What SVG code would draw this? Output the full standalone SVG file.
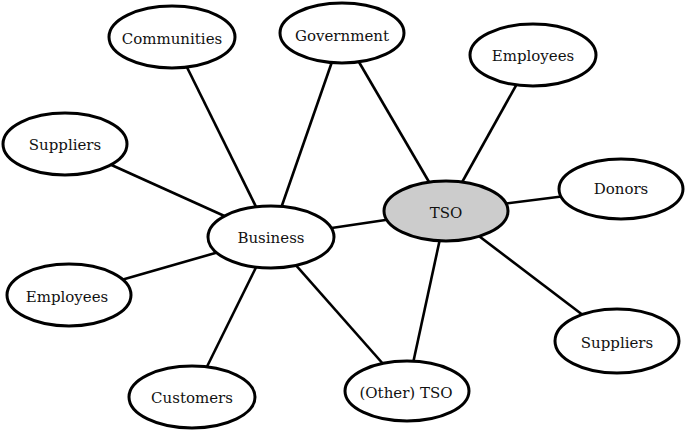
<svg xmlns="http://www.w3.org/2000/svg" width="685" height="432" viewBox="0 0 685 432">
  <style>
    .node ellipse { fill: #ffffff; stroke: #000000; stroke-width: 3; }
    #tso ellipse { fill: #cccccc; }
    .node text { font-family: "DejaVu Serif", "Liberation Serif", serif; font-size: 15px; fill: #111111; text-anchor: middle; dominant-baseline: central; }
    #edges line { stroke: #000000; stroke-width: 2.6; stroke-linecap: butt; }
  </style>
  <rect width="685" height="432" fill="#ffffff"/>
  <g id="edges">
    <line x1="172" y1="37" x2="271" y2="237"/>
    <line x1="342" y1="33" x2="271" y2="237"/>
    <line x1="342" y1="33" x2="446" y2="211"/>
    <line x1="533" y1="55" x2="446" y2="211"/>
    <line x1="65" y1="144" x2="271" y2="237"/>
    <line x1="621" y1="189" x2="446" y2="211"/>
    <line x1="446" y1="211" x2="271" y2="237"/>
    <line x1="69" y1="295" x2="271" y2="237"/>
    <line x1="192" y1="397" x2="271" y2="237"/>
    <line x1="271" y1="237" x2="407" y2="391"/>
    <line x1="446" y1="211" x2="407" y2="391"/>
    <line x1="446" y1="211" x2="617" y2="341"/>
  </g>
  <g id="communities" class="node">
    <ellipse cx="172" cy="37" rx="63" ry="31"/>
    <text x="172" y="39">Communities</text>
  </g>
  <g id="government" class="node">
    <ellipse cx="342" cy="33" rx="62" ry="30"/>
    <text x="342" y="36">Government</text>
  </g>
  <g id="employees-tso" class="node">
    <ellipse cx="533" cy="55" rx="63" ry="31"/>
    <text x="533" y="56">Employees</text>
  </g>
  <g id="suppliers-business" class="node">
    <ellipse cx="65" cy="144" rx="62" ry="31"/>
    <text x="65" y="145">Suppliers</text>
  </g>
  <g id="donors" class="node">
    <ellipse cx="621" cy="189" rx="62" ry="30"/>
    <text x="621" y="189">Donors</text>
  </g>
  <g id="tso" class="node">
    <ellipse cx="446" cy="211" rx="62" ry="30"/>
    <text x="446" y="213">TSO</text>
  </g>
  <g id="business" class="node">
    <ellipse cx="271" cy="237" rx="63" ry="31"/>
    <text x="271" y="238">Business</text>
  </g>
  <g id="employees-business" class="node">
    <ellipse cx="69" cy="295" rx="62" ry="31"/>
    <text x="67" y="297">Employees</text>
  </g>
  <g id="suppliers-tso" class="node">
    <ellipse cx="617" cy="341" rx="62" ry="32"/>
    <text x="617" y="343">Suppliers</text>
  </g>
  <g id="customers" class="node">
    <ellipse cx="192" cy="397" rx="63" ry="31"/>
    <text x="192" y="398">Customers</text>
  </g>
  <g id="other-tso" class="node">
    <ellipse cx="407" cy="391" rx="62" ry="30"/>
    <text x="406" y="393">(Other) TSO</text>
  </g>
</svg>
